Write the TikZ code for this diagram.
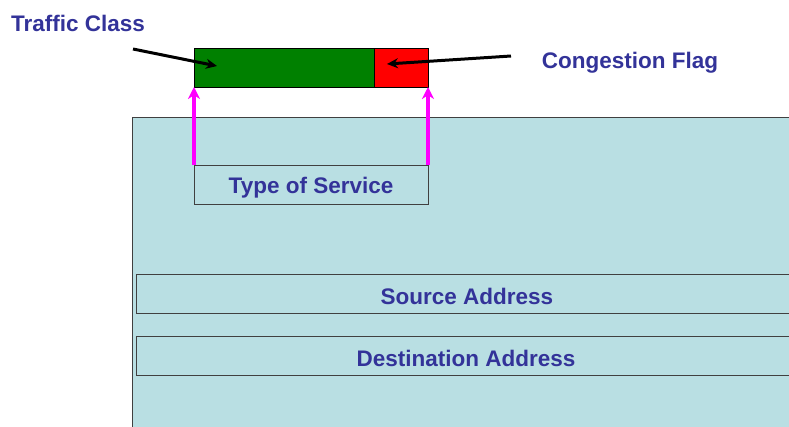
\documentclass[tikz,border=0pt]{standalone}
\usepackage{fontspec}
\setmainfont{Liberation Sans}
\usetikzlibrary{arrows.meta}
\definecolor{hdrblue}{HTML}{B9DFE3}
\definecolor{txtblue}{HTML}{333399}
\definecolor{fgreen}{HTML}{008000}
\definecolor{fmag}{HTML}{FF00FF}
\tikzset{
  field/.style={draw=black!75, line width=1pt, fill=hdrblue, inner sep=0pt},
  lbl/.style={text=txtblue, font=\fontsize{22.5}{26}\selectfont\bfseries, inner sep=0pt},
  callout/.style={draw=black, line width=3pt, -{Stealth[length=11pt,width=10pt]}},
  bitarrow/.style={draw=fmag, line width=3.8pt, -{Stealth[length=12pt,width=12pt]}}
}
\begin{document}
\begin{tikzpicture}[x=1pt,y=-1pt]
\clip (0,0) rectangle (789,426);
\fill[white] (0,0) rectangle (789,426);
% header
\draw[field] (132,117) rectangle (800,440);
% fields
\draw[field] (194,165) rectangle (428,204);
\node[lbl] (tos) at (311,187.5) {Type of Service};
\coordinate (tosL) at (194,165);
\coordinate (tosR) at (428,165);
\draw[field] (136,274) rectangle (800,313);
\node[lbl] (src) at (467,296) {Source Address};
\draw[field] (136,336) rectangle (800,375);
\node[lbl] (dst) at (466,358) {Destination Address};
% byte
\draw[draw=black, line width=1pt, fill=fgreen] (194,48) rectangle (374,87);
\draw[draw=black, line width=1pt, fill=red] (374,48) rectangle (428,87);
\coordinate (byteL) at (194,87);
\coordinate (byteR) at (428,87);
\coordinate (tcend) at (217,66);
\coordinate (cfend) at (387,64);
% labels
\node[lbl] (tc) at (78,23) {Traffic Class};
\node[lbl] (cf) at (630,63) {Congestion Flag};
\coordinate (tcstart) at (133,49);
\coordinate (cfstart) at (511,56);
% arrows
\draw[callout] (tcstart) -- (tcend);
\draw[callout] (cfstart) -- (cfend);
\draw[bitarrow] (tosL) -- (byteL);
\draw[bitarrow] (tosR) -- (byteR);
\end{tikzpicture}
\end{document}
